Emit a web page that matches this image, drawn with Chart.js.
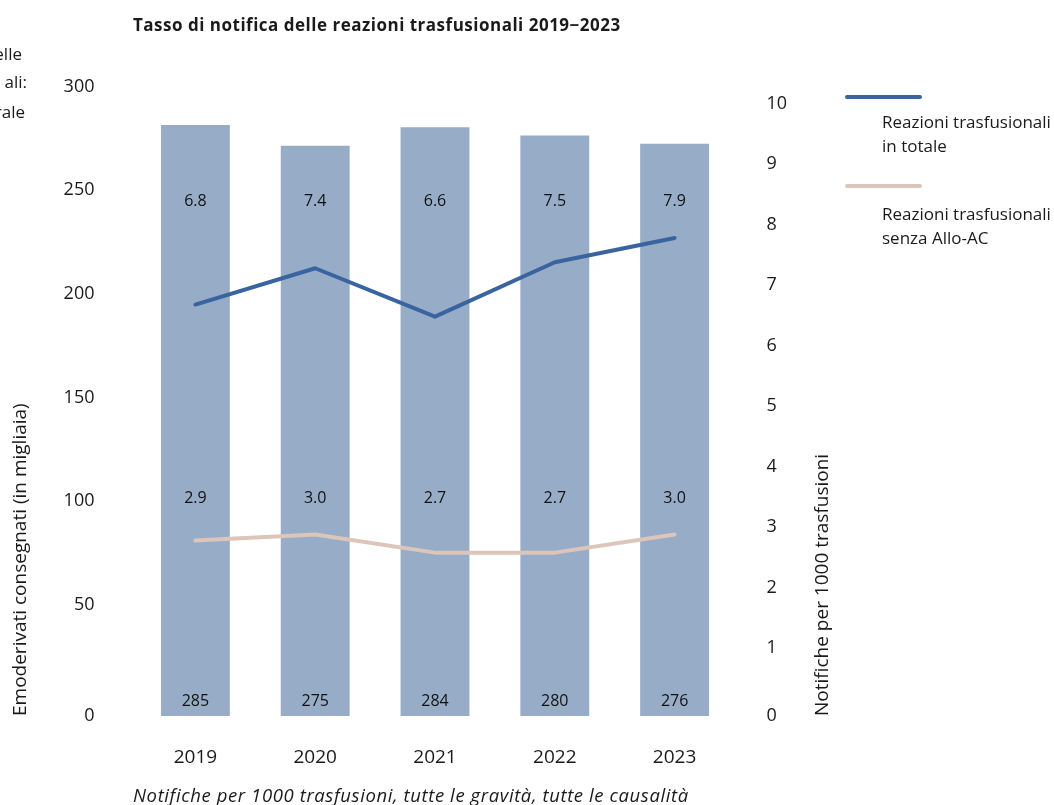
<!DOCTYPE html>
<html lang="it">
<head>
<meta charset="utf-8">
<title>Tasso di notifica delle reazioni trasfusionali 2019−2023</title>
<script src="https://cdn.jsdelivr.net/npm/chart.js@4.4.1/dist/chart.umd.min.js"></script>
<style>
  body { margin: 0; background: #fff; font-family: "Open Sans", sans-serif; color: #1a1a1a; }
  #wrap { position: relative; width: 1054px; height: 805px; overflow: hidden; }
  #chart { position: absolute; left: 0; top: 0; }
  .t { position: absolute; white-space: nowrap; }
  #titolo { left: 133px; top: 13px; font-size: 17px; font-weight: bold; letter-spacing: 0.5px; }
  .taglio { font-size: 17px; text-align: right; }
  .leg-linea { position: absolute; left: 845px; width: 77px; height: 4px; border-radius: 2px; }
  .leg-testo { left: 882px; font-size: 17px; line-height: 24px; }
  #nota { left: 133px; top: 782px; font-size: 18.5px; font-style: italic; letter-spacing: 0.6px; }
</style>
</head>
<body>
<div id="wrap">
  <canvas id="chart" width="1054" height="805"></canvas>

  <!-- testo tagliato a sinistra -->
  <div class="t taglio" style="top:42px; right:1032px">elle</div>
  <div class="t taglio" style="top:70px; right:1027px">ali:</div>
  <div class="t taglio" style="top:100px; right:1029px">rale</div>

  <div class="t" id="titolo">Tasso di notifica delle reazioni trasfusionali 2019−2023</div>

  <!-- legenda -->
  <div class="leg-linea" style="top:95px; background:#3a64a0"></div>
  <div class="t leg-testo" style="top:110px">Reazioni trasfusionali<br>in totale</div>
  <div class="leg-linea" style="top:184px; background:#dcc5bb"></div>
  <div class="t leg-testo" style="top:202px">Reazioni trasfusionali<br>senza Allo-AC</div>

  <div class="t" id="nota">Notifiche per 1000 trasfusioni, tutte le gravità, tutte le causalità</div>
</div>

<script>
// dati
const anni = ['2019', '2020', '2021', '2022', '2023'];
const emoderivati = [285, 275, 284, 280, 276];          // in migliaia
const reazioniTotale = [6.8, 7.4, 6.6, 7.5, 7.9];      // per 1000 trasfusioni
const reazioniSenzaAllo = [2.9, 3.0, 2.7, 2.7, 3.0];

const FONT = '"Open Sans", sans-serif';
const TESTO = '#1a1a1a';

// etichette dentro le barre (righe fisse, in unità dell'asse sinistro)
const etichetteBarre = {
    id: 'etichetteBarre',
    afterDatasetsDraw(chart) {
        const ctx = chart.ctx;
        const y = chart.scales.ySx;
        const barre = chart.getDatasetMeta(0).data;
        const righe = [
            { v: 248, testi: reazioniTotale.map(n => n.toFixed(1)) },
            { v: 105, testi: reazioniSenzaAllo.map(n => n.toFixed(1)) },
            { v: 6.8, testi: emoderivati.map(String) }
        ];
        ctx.save();
        ctx.font = '16px ' + FONT;
        ctx.fillStyle = '#111';
        ctx.textAlign = 'center';
        ctx.textBaseline = 'middle';
        righe.forEach(r => {
            barre.forEach((b, i) => ctx.fillText(r.testi[i], b.x, y.getPixelForValue(r.v)));
        });
        ctx.restore();
    }
};

// titoli degli assi, entrambi letti dal basso verso l'alto
const titoliAssi = {
    id: 'titoliAssi',
    afterDraw(chart) {
        const ctx = chart.ctx;
        const fondo = chart.chartArea.bottom;
        ctx.save();
        ctx.font = '19px ' + FONT;
        ctx.fillStyle = TESTO;
        ctx.textAlign = 'left';
        ctx.textBaseline = 'middle';
        [[21, 'Emoderivati consegnati (in migliaia)'], [823, 'Notifiche per 1000 trasfusioni']].forEach(([x, testo]) => {
            ctx.save();
            ctx.translate(x, fondo);
            ctx.rotate(-Math.PI / 2);
            ctx.fillText(testo, 0, 0);
            ctx.restore();
        });
        ctx.restore();
    }
};

// lo zero è disegnato più in basso delle altre etichette
const etichettaTick = v => v === 0 ? ['', '0'] : String(v);

new Chart(document.getElementById('chart'), {
    data: {
        labels: anni,
        datasets: [
            {
                type: 'bar',
                label: 'Emoderivati consegnati',
                data: emoderivati,
                yAxisID: 'ySx',
                backgroundColor: '#97adc7',
                barPercentage: 0.575,
                categoryPercentage: 1,
                order: 2
            },
            {
                type: 'line',
                label: 'Reazioni trasfusionali in totale',
                data: reazioniTotale,
                yAxisID: 'yDx',
                borderColor: '#3a64a0',
                borderWidth: 4,
                borderCapStyle: 'round',
                borderJoinStyle: 'round',
                pointRadius: 0,
                tension: 0,
                order: 1
            },
            {
                type: 'line',
                label: 'Reazioni trasfusionali senza Allo-AC',
                data: reazioniSenzaAllo,
                yAxisID: 'yDx',
                borderColor: '#dcc5bb',
                borderWidth: 4,
                borderCapStyle: 'round',
                borderJoinStyle: 'round',
                pointRadius: 0,
                tension: 0,
                order: 1
            }
        ]
    },
    options: {
        responsive: false,
        animation: false,
        layout: { padding: { top: 94, left: 0, right: 0, bottom: 0 } },
        plugins: { legend: { display: false }, tooltip: { enabled: false } },
        scales: {
            x: {
                grid: { display: false },
                border: { display: false },
                ticks: { color: TESTO, font: { family: FONT, size: 19 }, padding: 22 },
                afterFit: s => { s.height = 89; }
            },
            ySx: {
                position: 'left',
                min: 0,
                max: 300,
                grid: { display: false },
                border: { display: false },
                ticks: {
                    stepSize: 50,
                    padding: 33,
                    labelOffset: -7.5,
                    color: TESTO,
                    font: { family: FONT, size: 18, lineHeight: 15 / 18 },
                    callback: etichettaTick
                },
                afterFit: s => { s.width = 135.5; }
            },
            yDx: {
                position: 'right',
                min: 0,
                max: 10.28,
                bounds: 'data',
                grid: { display: false },
                border: { display: false },
                ticks: {
                    stepSize: 1,
                    includeBounds: false,
                    padding: 24,
                    labelOffset: -7.5,
                    color: TESTO,
                    font: { family: FONT, size: 18, lineHeight: 15 / 18 },
                    callback: etichettaTick
                },
                afterFit: s => { s.width = 1054 - 734.5; }
            }
        }
    },
    plugins: [etichetteBarre, titoliAssi]
});
</script>
</body>
</html>
